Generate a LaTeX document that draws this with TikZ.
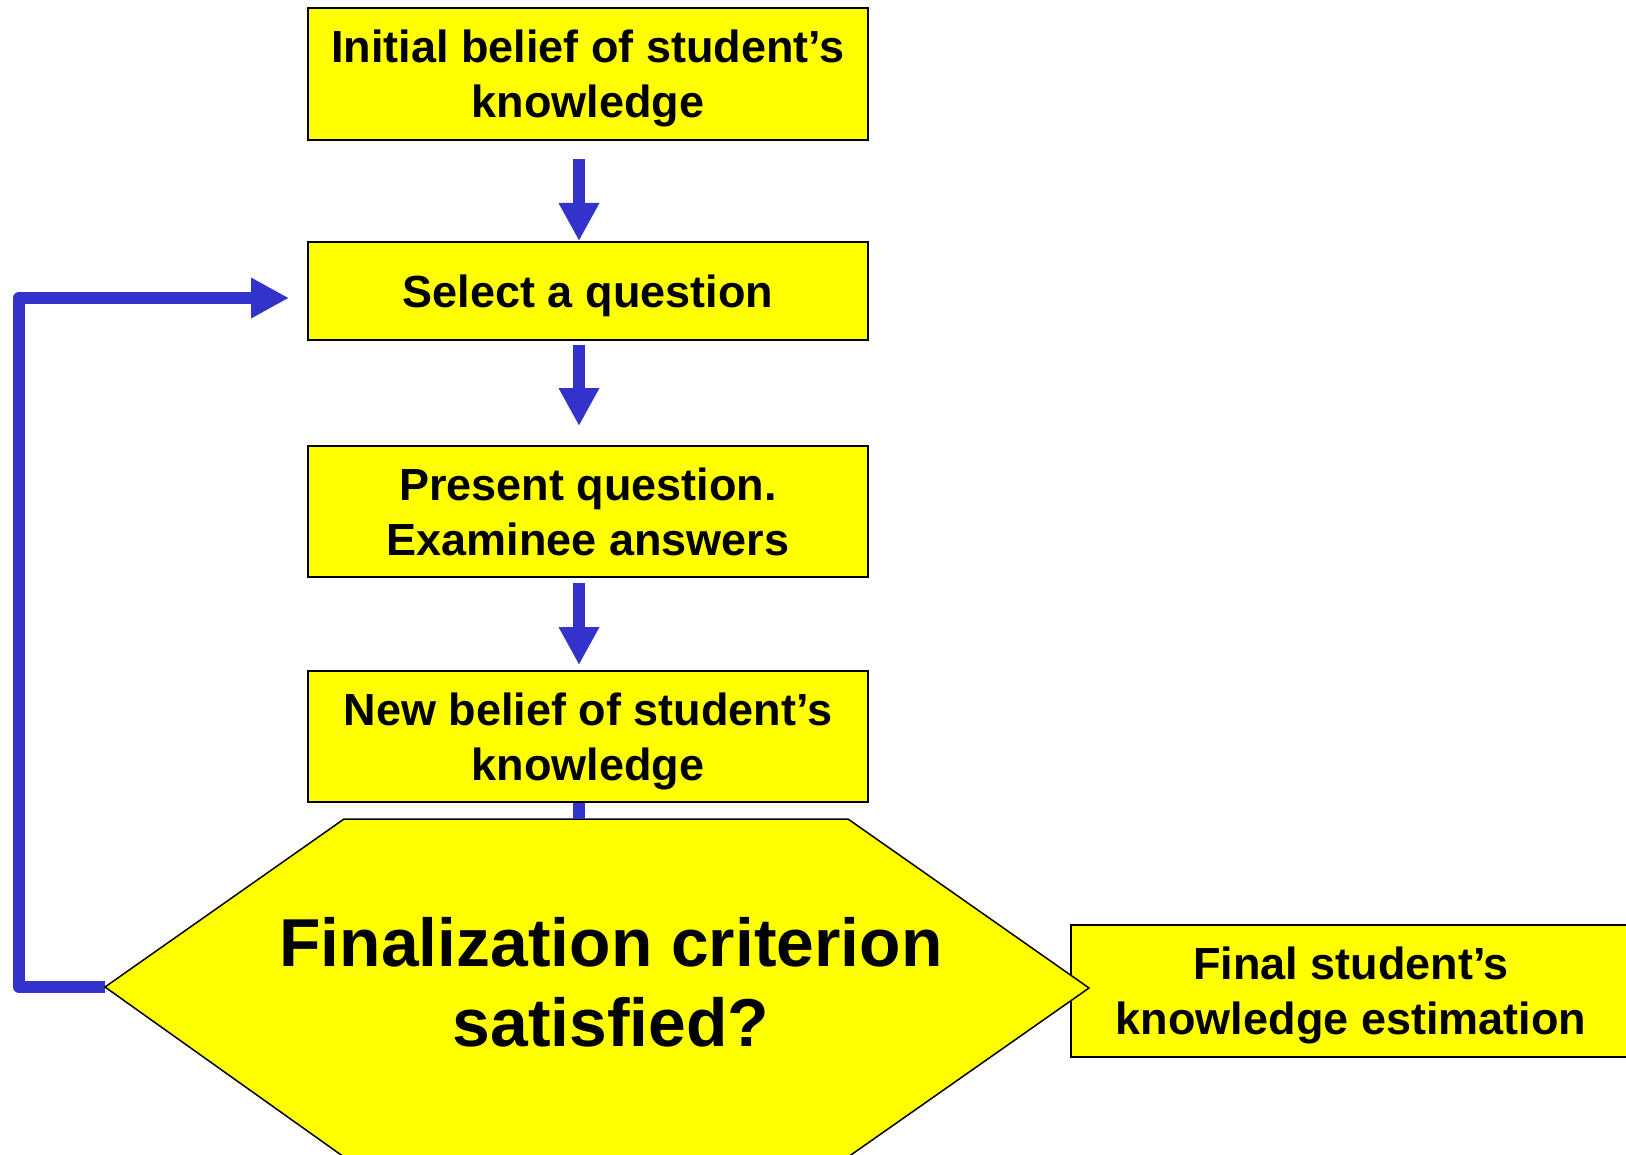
\documentclass[tikz,border=0pt]{standalone}
\usepackage{fontspec}
\setmainfont{Liberation Sans}
\usepackage{xcolor}
\usetikzlibrary{arrows.meta,positioning}
\definecolor{flowyellow}{RGB}{255,255,0}
\definecolor{flowblue}{RGB}{51,51,204}

\begin{document}
\begin{tikzpicture}[x=0.5pt,y=-0.5pt]
        \tikzstyle{stage}=[draw=black,line width=1pt,fill=flowyellow,%
          minimum width=280pt,inner sep=0pt,align=center,text depth=0pt,%
          font=\bfseries\fontsize{22.5}{27.5}\selectfont]
      \tikzstyle{link}=[draw=flowblue,line width=6pt]
      \tikzstyle{flow}=[link,-{Triangle[length=19pt,width=19pt]}]

      \useasboundingbox (0,0) rectangle (1626,1155);

      \node[stage,minimum height=66pt] (init) at (588,74) {Initial belief of student’s\\knowledge};
      \node[stage,minimum height=49pt] (select) at (588,291) {Select a question};
      \node[stage,minimum height=65.5pt] (present) at (588,511.5) {Present question.\\Examinee answers};
      \node[stage,minimum height=65.5pt] (newbelief) at (588,736.5) {New belief of student’s\\knowledge};
      \node[stage,minimum height=66pt] (final) at (1351,991) {Final student’s\\knowledge estimation};

      \coordinate (crit-n) at (579,819);
      \coordinate (crit-w) at (105,987);

      \path [flow,line join=round] (crit-w) -- (19,987) |- ([shift={(-18,7)}]select.west);

      % the test, drawn over the final box
      \draw[line width=0.75pt,fill=flowyellow] (crit-w) -- (344,819) -- (848,819)
        -- (1089,988) -- (848,1157) -- (344,1157) -- cycle;
      \node[font=\bfseries\fontsize{33.9}{40}\selectfont,align=center] (crit) at (611,982)
        {Finalization criterion\\satisfied?};

      \path [flow,shorten <=9pt] ([xshift=-4.5pt]init.south) -- ([xshift=-4.5pt]select.north);
      \path [flow,shorten <=2pt,shorten >=9.5pt] ([xshift=-4.5pt]select.south) -- ([xshift=-4.5pt]present.north);
      \path [flow,shorten <=2.5pt,shorten >=2.5pt] ([xshift=-4.5pt]present.south) -- ([xshift=-4.5pt]newbelief.north);
      \path [link] ([xshift=-4.5pt]newbelief.south) -- (crit-n);
    \end{tikzpicture}
\end{document}
